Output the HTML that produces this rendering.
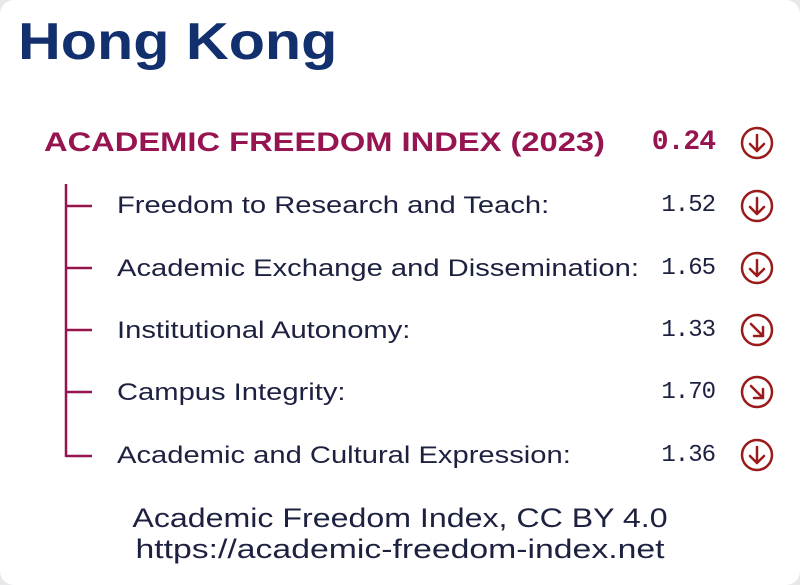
<!DOCTYPE html>
<html><head><style>
html,body{margin:0;padding:0;background:#e9e9ec;}
.card{position:absolute;left:0;top:0;width:800px;height:585px;background:#fff;border-radius:14px;overflow:hidden;font-family:"Liberation Sans",sans-serif;}
.t{position:absolute;white-space:nowrap;}
.row{font-size:24px;color:#1d2140;transform:scaleX(1.215);transform-origin:0 0;}
.val{font-size:24px;color:#1d2140;text-align:right;width:120px;left:595px;font-family:"Liberation Mono",monospace;letter-spacing:-1px;}
</style></head><body>
<div class="card">
<div class="t" style="left:18px;top:12px;font-size:52px;font-weight:bold;color:#13306e;transform:scaleX(1.14);transform-origin:0 0;">Hong Kong</div>
<div class="t" style="left:44px;top:127px;font-size:27px;font-weight:bold;color:#961450;transform:scaleX(1.21);transform-origin:0 0;">ACADEMIC FREEDOM INDEX (2023)</div>
<div class="t" style="left:595px;width:120px;text-align:right;top:127px;font-size:28px;font-weight:bold;color:#961450;font-family:'Liberation Mono',monospace;letter-spacing:-1px;">0.24</div>
<div class="t row" style="left:117px;top:192px;">Freedom to Research and Teach:</div>
<div class="t row" style="left:117px;top:255px;">Academic Exchange and Dissemination:</div>
<div class="t row" style="left:117px;top:317px;">Institutional Autonomy:</div>
<div class="t row" style="left:117px;top:379px;">Campus Integrity:</div>
<div class="t row" style="left:117px;top:442px;">Academic and Cultural Expression:</div>
<div class="t val" style="top:192px;">1.52</div>
<div class="t val" style="top:255px;">1.65</div>
<div class="t val" style="top:317px;">1.33</div>
<div class="t val" style="top:379px;">1.70</div>
<div class="t val" style="top:442px;">1.36</div>
<svg class="t" style="left:0;top:0" width="800" height="585">
<g stroke="#961450" stroke-width="2.5" fill="none">
<path d="M66 184V457M66 206H92M66 268H92M66 330H92M66 392H92M66 456H92"/>
</g>
<g stroke="#9a1b1b" stroke-width="2.5" fill="none" stroke-linecap="round" stroke-linejoin="round">
<circle cx="757" cy="143" r="15"/><path d="M757 135V151M750 144L757 151L764 144"/>
<circle cx="757" cy="206" r="15"/><path d="M757 198V214M750 207L757 214L764 207"/>
<circle cx="757" cy="268" r="15"/><path d="M757 260V276M750 269L757 276L764 269"/>
<circle cx="757" cy="330" r="15"/><path d="M751 324L763 336M754 336H763V327"/>
<circle cx="757" cy="392" r="15"/><path d="M751 386L763 398M754 398H763V389"/>
<circle cx="757" cy="455" r="15"/><path d="M757 447V463M750 456L757 463L764 456"/>
</g>
</svg>
<div class="t" style="left:0;width:800px;text-align:center;top:503px;font-size:27px;line-height:31px;color:#1d2140;transform:scaleX(1.19);transform-origin:400px 0;">Academic Freedom Index, CC BY 4.0</div>
<div class="t" style="left:0;width:800px;text-align:center;top:534px;font-size:27px;line-height:31px;color:#1d2140;transform:scaleX(1.25);transform-origin:400px 0;">https://academic-freedom-index.net</div>
</div>
</body></html>
